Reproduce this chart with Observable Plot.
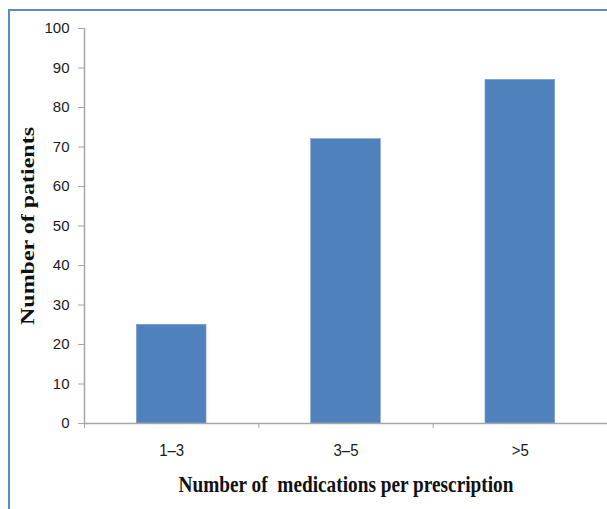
<!DOCTYPE html>
<html>
<head>
<meta charset="utf-8">
<script src="https://cdn.jsdelivr.net/npm/d3@7"></script>
<script src="https://cdn.jsdelivr.net/npm/@observablehq/plot@0.6"></script>
<style>
  html, body { margin: 0; padding: 0; background: #fff; }
  #wrap { position: relative; width: 607px; height: 509px; overflow: hidden; }
  #frame { position: absolute; left: 8px; top: 9px; width: 620px; height: 520px;
           border-left: 2px solid #5B8AC6; border-top: 2px solid #5B8AC6; }
  #chart { position: absolute; left: 0; top: 0; }
  #chart svg { overflow: visible; }
</style>
</head>
<body>
<div id="wrap">
  <div id="frame"></div>
  <div id="chart"></div>
</div>
<script>
// Patients grouped by number of medications per prescription
const categories = ["1–3", "3–5", ">5"];
const patients = [25, 72, 87];
const yTicks = [0, 10, 20, 30, 40, 50, 60, 70, 80, 90, 100];
const xTitle = "Number of  medications per prescription";
const yTitle = "Number of patients";

const rows = categories.map((c, i) => ({category: c, index: i, value: patients[i]}));
const bounds = d3.range(categories.length + 1);

const axisGray = "#A6A6A6";
const barBlue = "#4F81BD";
const labelFont = "'Liberation Sans', Arial, sans-serif";
const titleFont = "'Liberation Serif', 'Times New Roman', serif";

const chart = Plot.plot({
  width: 607,
  height: 509,
  marginLeft: 84,
  marginRight: 0,
  marginTop: 28,
  marginBottom: 86,
  style: {fontFamily: labelFont, fontSize: "15px", color: "#1a1a1a", background: "transparent"},
  x: {type: "linear", domain: [0, categories.length]},
  y: {domain: [0, 100]},
  marks: [
    // bars centred in each category slot, 40% of the slot wide
    Plot.rectY(rows, {x1: d => d.index + 0.3, x2: d => d.index + 0.7, y1: 0, y2: "value", fill: barBlue, stroke: "#7FA3D0", strokeWidth: 0.6}),
    // axis lines
    Plot.ruleX([0], {y1: 0, y2: 100, stroke: axisGray, strokeWidth: 1.5}),
    Plot.ruleY([0], {x1: 0, x2: categories.length, stroke: axisGray, strokeWidth: 1.5}),
    Plot.axisY({ticks: yTicks, tickSize: 6, tickPadding: 9, stroke: axisGray, fontSize: 15, label: null, className: "y-ticks"}),
    // category boundary ticks, labels in between
    Plot.axisX({ticks: bounds, tickSize: 5, tickFormat: () => "", stroke: axisGray, label: null}),
    Plot.text(rows, {x: d => d.index + 0.5, y: 0, text: "category", dy: 27, fontSize: 15, fill: "#1a1a1a", className: "x-ticks"}),
    // axis titles
    Plot.text([xTitle], {
      x: categories.length / 2, y: 0, text: d => d, dy: 61,
      fontSize: 19.5, fontWeight: "bold", fontFamily: titleFont, fill: "#111",
      className: "x-title"
    }),
    Plot.text([yTitle], {
      frameAnchor: "left", textAnchor: "middle", text: d => d, rotate: -90, dx: -56,
      fontSize: 18, fontWeight: "bold", fontFamily: titleFont, fill: "#111",
      className: "y-title"
    })
  ]
});

// titles: fixed lengths, with the slightly tall lettering of the original layout
const svg = d3.select(chart);
svg.select("g.x-title text")
  .attr("textLength", 335).attr("lengthAdjust", "spacingAndGlyphs")
  .attr("transform", function() { return (this.getAttribute("transform") || "") + " scale(1,1.2)"; });
svg.select("g.y-title text")
  .attr("textLength", 198).attr("lengthAdjust", "spacingAndGlyphs");
svg.selectAll("g.x-ticks text")
  .attr("transform", function() { return (this.getAttribute("transform") || "") + " scale(1,1.1)"; });

document.getElementById("chart").appendChild(chart);
</script>
</body>
</html>
